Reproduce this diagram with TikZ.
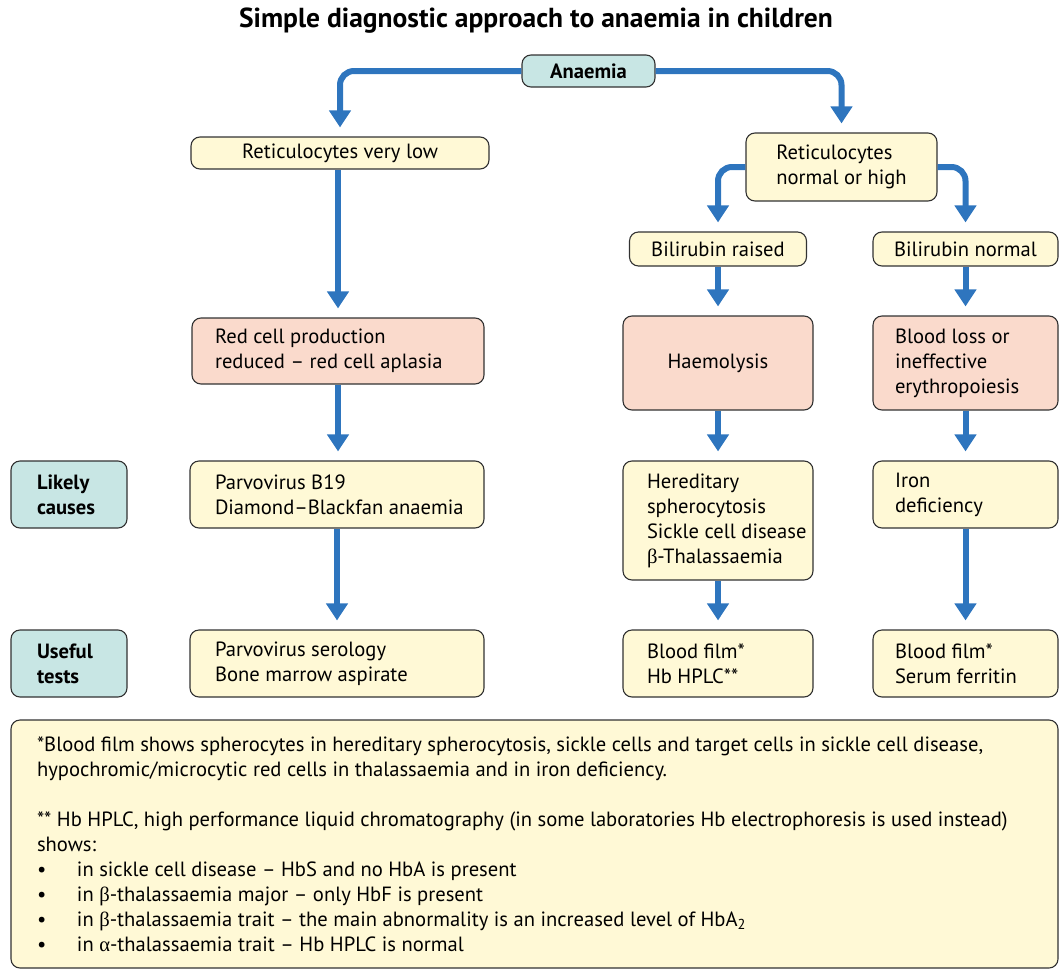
\documentclass[tikz,border=0pt]{standalone}
\usepackage{fontspec}
\setmainfont{PT Sans}
\newfontfamily\grk{Liberation Serif}
\usetikzlibrary{arrows.meta}
\definecolor{yel}{RGB}{255,249,214}
\definecolor{pnk}{RGB}{250,218,204}
\definecolor{tealbox}{RGB}{200,230,228}
\definecolor{arrblue}{RGB}{46,117,190}
\definecolor{bord}{RGB}{50,50,50}
\begin{document}
\begin{tikzpicture}[x=1pt,y=-1pt,
  box/.style={draw=bord, line width=1.1pt, rounded corners=9pt, inner ysep=0pt,
    font=\fontsize{20.6}{25}\selectfont},
  yb/.style={box, fill=yel},
  pb/.style={box, fill=pnk},
  tb/.style={box, fill=tealbox, font=\bfseries\fontsize{20.6}{25}\selectfont},
  lbox/.style 2 args={text width=#1, inner xsep=#2, align=flush left},
  arr/.style={draw=arrblue, line width=6pt, rounded corners=14pt,
    -{Triangle[width=21pt,length=17pt]}, shorten >=9pt}
]
\useasboundingbox (0,0) rectangle (1060,969);
\node (title) at (536,21) {\bfseries\fontsize{27.5}{32}\selectfont Simple diagnostic approach to anaemia in children};
\node[tb, minimum width=133pt, minimum height=32pt] (anaemia) at (588.5,71) {Anaemia};
\node[yb, minimum width=298pt, minimum height=32pt] (rvl) at (340,153) {Reticulocytes very low};
\node[yb, align=left, minimum width=191pt, minimum height=68pt] (rnh) at (841.5,167) {Reticulocytes\\normal or high};
\node[yb, minimum width=177pt, minimum height=34pt] (bra) at (718,249) {Bilirubin raised};
\node[yb, minimum width=185pt, minimum height=34pt] (bno) at (965.5,249) {Bilirubin normal};
\node[pb, lbox={246pt}{23pt}, minimum height=66pt] (rcp) at (338,351) {Red cell production\\reduced -- red cell aplasia};
\node[pb, minimum width=190pt, minimum height=94pt] (hae) at (718,363) {Haemolysis};
\node[pb, lbox={141pt}{22pt}, minimum height=94pt] (blo) at (965.5,363) {Blood loss or\\ineffective\\erythropoiesis};
\node[tb, lbox={64pt}{26pt}, minimum height=67pt] (lc) at (69,494.5) {Likely\\causes};
\node[yb, lbox={244pt}{25pt}, minimum height=67pt] (parvo) at (337,494.5) {Parvovirus B19\\\mbox{Diamond--Blackfan anaemia}};
\node[yb, lbox={142pt}{24pt}, minimum height=119pt] (her) at (718,520.5) {Hereditary\\spherocytosis\\\mbox{Sickle cell disease}\\\mbox{{\grk β}-Thalassaemia}};
\node[yb, lbox={141pt}{22pt}, minimum height=67pt] (idf) at (965.5,494.5) {Iron\\deficiency};
\node[tb, lbox={64pt}{26pt}, minimum height=67pt] (ut) at (69,663.5) {Useful\\tests};
\node[yb, lbox={244pt}{25pt}, minimum height=67pt] (ser) at (337,663.5) {Parvovirus serology\\Bone marrow aspirate};
\node[yb, lbox={142pt}{24pt}, minimum height=67pt] (bf1) at (718,663.5) {Blood film*\\Hb HPLC**};
\node[yb, lbox={141pt}{22pt}, minimum height=67pt] (bf2) at (965.5,663.5) {Blood film*\\Serum ferritin};
\node[yb, lbox={995pt}{26pt}, minimum height=248pt, font=\fontsize{20.6}{25}\selectfont] (note) at (534.5,844)
{\mbox{*Blood film shows spherocytes in hereditary spherocytosis, sickle cells and target cells in sickle cell disease,}\\
hypochromic/microcytic red cells in thalassaemia and in iron deficiency.\\[25pt]
\mbox{** Hb HPLC, high performance liquid chromatography (in some laboratories Hb electrophoresis is used instead)}\\
shows:\\
\makebox[40pt][l]{•}in sickle cell disease -- HbS and no HbA is present\\
\makebox[40pt][l]{•}in {\grk β}-thalassaemia major -- only HbF is present\\
\makebox[40pt][l]{•}in {\grk β}-thalassaemia trait -- the main abnormality is an increased level of HbA\textsubscript{2}\\
\makebox[40pt][l]{•}in {\grk α}-thalassaemia trait -- Hb HPLC is normal};
% connectors
\draw[arr] (anaemia.west) -| (rvl.north);
\draw[arr] (anaemia.east) -| (rnh.north);
\draw[arr] (rvl.south -| rcp.north) -- (rcp.north);
\draw[arr] (rcp.south) -- (parvo.north -| rcp.south);
\draw[arr] (parvo.south) -- (ser.north);
\draw[arr] (rnh.west) -| (bra.north);
\draw[arr] (rnh.east) -| (bno.north);
\draw[arr] (bra.south) -- (hae.north);
\draw[arr] (hae.south) -- (her.north);
\draw[arr] (her.south) -- (bf1.north);
\draw[arr] (bno.south) -- (blo.north);
\draw[arr] (blo.south) -- (idf.north);
\draw[arr] (idf.south) -- (bf2.north);
\end{tikzpicture}
\end{document}
